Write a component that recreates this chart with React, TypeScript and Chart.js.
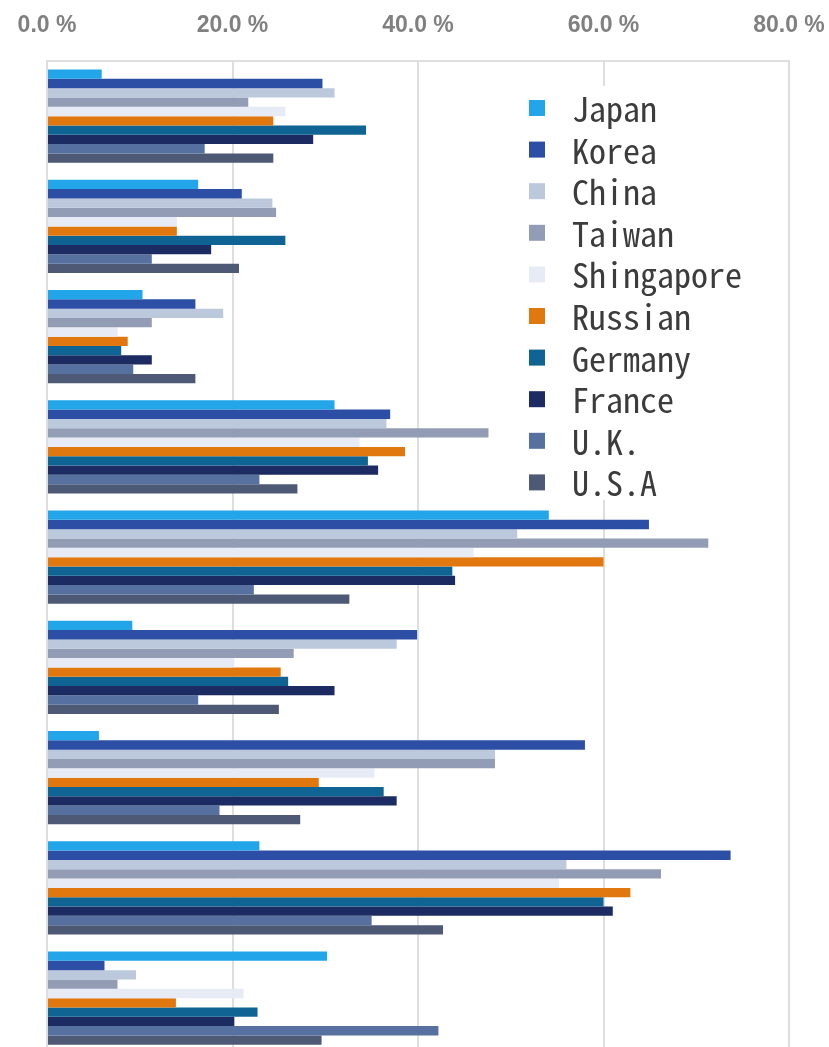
import React, { useEffect, useRef } from "react";
import { Chart, registerables } from "chart.js";

Chart.register(...registerables);

const categories = ["Item 1", "Item 2", "Item 3", "Item 4", "Item 5", "Item 6", "Item 7", "Item 8", "Item 9"];

const seriesNames = ["Japan", "Korea", "China", "Taiwan", "Shingapore", "Russian", "Germany", "France", "U.K.", "U.S.A"];
const seriesColors = ["#22a6e9", "#2d4ea5", "#bcc8dc", "#929db5", "#e6ebf5", "#e0780f", "#0f6494", "#1c2b61", "#56709f", "#4e5a75"];

const japan = [5.9, 16.3, 10.3, 31.0, 54.1, 9.2, 5.6, 22.9, 30.2];
const korea = [29.7, 21.0, 16.0, 37.0, 64.9, 39.9, 58.0, 73.7, 6.2];
const china = [31.0, 24.3, 19.0, 36.6, 50.7, 37.7, 48.3, 56.0, 9.6];
const taiwan = [21.7, 24.7, 11.3, 47.6, 71.3, 26.6, 48.3, 66.2, 7.6];
const shingapore = [25.7, 14.0, 7.6, 33.7, 46.0, 20.2, 35.3, 55.2, 21.2];
const russian = [24.4, 14.0, 8.7, 38.6, 60.0, 25.2, 29.3, 62.9, 13.9];
const germany = [34.4, 25.7, 8.0, 34.6, 43.7, 26.0, 36.3, 60.0, 22.7];
const france = [28.7, 17.7, 11.3, 35.7, 44.0, 31.0, 37.7, 61.0, 20.2];
const uk = [17.0, 11.3, 9.3, 22.9, 22.3, 16.3, 18.6, 35.0, 42.2];
const usa = [24.4, 20.7, 16.0, 27.0, 32.6, 25.0, 27.3, 42.7, 29.6];

const seriesValues = [japan, korea, china, taiwan, shingapore, russian, germany, france, uk, usa];

const tickValues = [0, 20, 40, 60, 80];

// canvas is shifted so that the plot area lands where the reference has it
const SHIFT_X = 13;
const SHIFT_Y = 11;
const CANVAS_W = 872;
const CANVAS_H = 1072;

const insideLegend = {
  id: "insideLegend",
  afterDraw(chart: any) {
    const ctx = chart.ctx;
    ctx.save();
    ctx.translate(SHIFT_X, SHIFT_Y);
    ctx.fillStyle = "#ffffff";
    ctx.fillRect(505, 86, 270, 414);
    ctx.font = '34px "Noto Sans Mono CJK JP", "Noto Sans CJK JP", monospace';
    ctx.textBaseline = "middle";
    ctx.textAlign = "left";
    chart.data.datasets.forEach((ds: any, i: number) => {
      const cy = 108 + i * 41.6;
      ctx.fillStyle = ds.backgroundColor;
      ctx.fillRect(529, cy - 8, 16, 16);
      ctx.fillStyle = "#3c3c3c";
      ctx.fillText(ds.label, 572, cy + 1);
    });
    ctx.restore();
  },
};

export default function App() {
  const canvasRef = useRef<HTMLCanvasElement | null>(null);

  useEffect(() => {
    if (!canvasRef.current) return;
    const chart = new Chart(canvasRef.current, {
      type: "bar",
      data: {
        labels: categories,
        datasets: seriesNames.map((name, i) => ({
          label: name,
          data: seriesValues[i],
          backgroundColor: seriesColors[i],
          borderWidth: 0,
          barPercentage: 1,
          categoryPercentage: 0.846,
        })),
      },
      options: {
        indexAxis: "y",
        responsive: false,
        animation: false,
        layout: { padding: { left: 47 + SHIFT_X, right: CANVAS_W - SHIFT_X - 789, top: 0.4, bottom: CANVAS_H - SHIFT_Y - 1053.25 } },
        plugins: {
          legend: { display: false },
          tooltip: { enabled: false },
        },
        scales: {
          x: {
            position: "top",
            min: 0,
            max: 80,
            afterBuildTicks: (axis: any) => {
              axis.ticks = tickValues.map((v) => ({ value: v }));
            },
            ticks: {
              padding: 22,
              maxRotation: 0,
              color: "#808080",
              font: { family: '"Liberation Sans", Arial, sans-serif', size: 23, weight: "bold", lineHeight: 1.2 },
              callback: (v: any) => Number(v).toFixed(1) + " %",
            },
            grid: { color: "#dedede", lineWidth: 2, drawTicks: false },
            border: { display: true, color: "#dedede", width: 2 },
          },
          y: {
            display: false,
          },
        },
      },
      plugins: [insideLegend],
    });
    return () => chart.destroy();
  }, []);

  return (
    <div
      style={{
        position: "fixed",
        left: 0,
        top: 0,
        width: 829,
        height: 1047,
        overflow: "hidden",
        background: "#ffffff",
      }}
    >
      <canvas
        ref={canvasRef}
        width={CANVAS_W}
        height={CANVAS_H}
        style={{ position: "absolute", left: -SHIFT_X, top: -SHIFT_Y, display: "block", width: CANVAS_W, height: CANVAS_H }}
      />
    </div>
  );
}
